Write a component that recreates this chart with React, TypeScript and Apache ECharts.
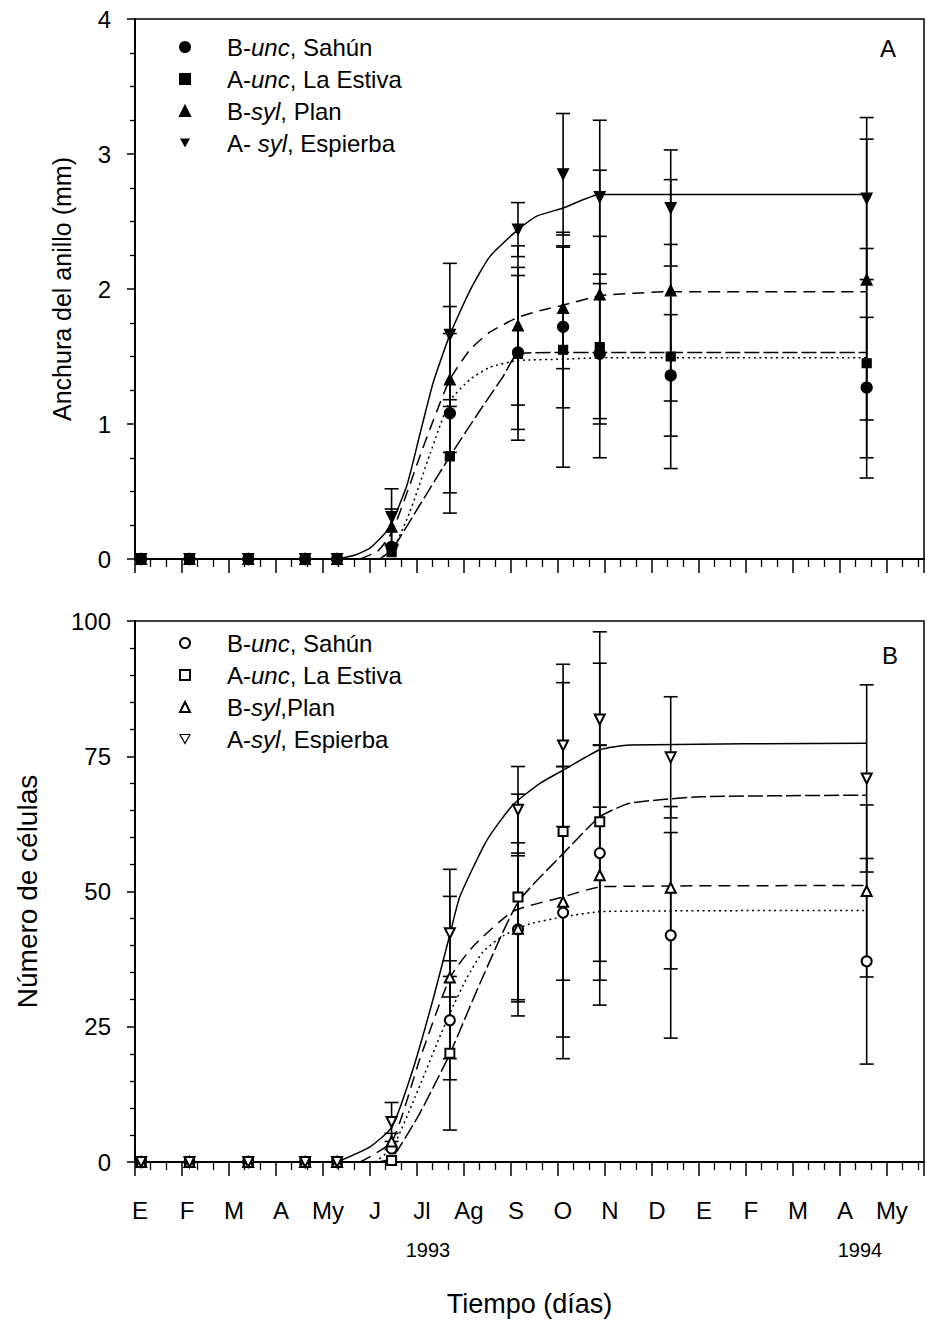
import React, { useEffect, useRef } from 'react';
import * as echarts from 'echarts';

const FONT = "'Liberation Sans', Arial, sans-serif";

// x values are months since 1 January 1993
const monthLabels = ['E', 'F', 'M', 'A', 'My', 'J', 'Jl', 'Ag', 'S', 'O', 'N', 'D', 'E', 'F', 'M', 'A', 'My'];
const sampleMonths = [0.13, 1.16, 2.41, 3.62, 4.3, 5.46, 6.7, 8.15, 9.11, 9.89, 11.4, 15.57];

// Panel A: ring width (mm)
const ringBUnc = [0, 0, 0, 0, 0, 0.09, 1.08, 1.53, 1.72, 1.52, 1.36, 1.27];
const ringBUncErr = [0, 0, 0, 0, 0, 0, 0.59, 0.57, 0.6, 0.52, 0.45, 0.52];
const ringAUnc = [0, 0, 0, 0, 0, 0.05, 0.76, 1.52, 1.55, 1.57, 1.5, 1.45];
const ringAUncErr = [0, 0, 0, 0, 0, 0, 0.42, 0.64, 0.87, 0.82, 0.83, 0.85];
const ringBSyl = [0, 0, 0, 0, 0, 0.24, 1.33, 1.73, 1.86, 1.96, 1.99, 2.07];
const ringBSylErr = [0, 0, 0, 0, 0, 0.13, 0.54, 0.59, 0.45, 0.92, 0.82, 1.04];
const ringASyl = [0, 0, 0, 0, 0, 0.31, 1.66, 2.44, 2.85, 2.68, 2.6, 2.67];
const ringASylErr = [0, 0, 0, 0, 0, 0.21, 0.53, 0.2, 0.45, 0.57, 0.43, 0.6];

// Panel A fitted curves
const ringASylFitX = [4.3, 4.68, 5.0, 5.32, 5.47, 5.79, 6.06, 6.34, 6.7, 7.13, 7.55, 8.15, 8.55, 9.11, 9.89, 11.4, 15.57];
const ringASylFitY = [0, 0.03, 0.08, 0.19, 0.27, 0.55, 0.92, 1.3, 1.66, 1.99, 2.24, 2.44, 2.54, 2.6, 2.7, 2.7, 2.7];
const ringBSylFitX = [4.79, 5.17, 5.47, 5.85, 6.06, 6.34, 6.7, 7.13, 7.55, 8.15, 8.62, 9.11, 9.89, 11.4, 15.57];
const ringBSylFitY = [0, 0.06, 0.2, 0.55, 0.76, 1.02, 1.33, 1.55, 1.68, 1.79, 1.84, 1.88, 1.95, 1.98, 1.98];
const ringBUncFitX = [5.17, 5.47, 5.85, 6.28, 6.7, 7.13, 7.55, 8.15, 9.11, 9.89, 11.4, 15.57];
const ringBUncFitY = [0, 0.06, 0.35, 0.78, 1.17, 1.33, 1.42, 1.47, 1.48, 1.49, 1.49, 1.49];
const ringAUncFitX = [5.21, 5.47, 6.06, 6.7, 7.34, 7.83, 8.15, 9.11, 9.89, 11.4, 15.57];
const ringAUncFitY = [0, 0.07, 0.4, 0.76, 1.1, 1.35, 1.52, 1.53, 1.53, 1.53, 1.53];

// Panel B: number of cells
const cellBUnc = [0, 0, 0, 0, 0, 2.5, 26.2, 43, 46.1, 57.1, 41.9, 37.1];
const cellBUncErr = [0, 0, 0, 0, 0, 0, 11, 16, 27, 20, 19, 19];
const cellAUnc = [0, 0, 0, 0, 0, 0.3, 20.1, 49, 61.1, 62.9, null, null];
const cellAUncErr = [0, 0, 0, 0, 0, 0, 14.2, 19, 27.5, 29.3, null, null];
const cellBSyl = [0, 0, 0, 0, 0, 3.8, 34.1, 43.1, 48.1, 53, 50.7, 50.1];
const cellBSylErr = [0, 0, 0, 0, 0, 1.5, 15, 13.5, 25, 24, 15, 15.9];
const cellASyl = [0, 0, 0, 0, 0, 7.4, 42.3, 65.1, 77, 81.8, 74.8, 70.9];
const cellASylErr = [0, 0, 0, 0, 0, 3.6, 11.8, 8, 15, 16.2, 11.2, 17.3];

// Panel B fitted curves
const cellASylFitX = [4.3, 5.0, 5.47, 5.91, 6.34, 6.7, 6.91, 7.49, 8.04, 8.62, 9.19, 9.89, 10.53, 15.57];
const cellASylFitY = [0, 2.8, 6.5, 17, 30, 42, 49, 59.5, 66, 70, 72.8, 76.2, 77.1, 77.4];
const cellAUncFitX = [5.17, 5.47, 6.06, 6.7, 7.34, 8.15, 9.11, 9.89, 10.53, 12.02, 15.57];
const cellAUncFitY = [0, 0.8, 9, 20, 33, 48, 57, 63.8, 66.3, 67.5, 67.8];
const cellBSylFitX = [4.79, 5.47, 6.06, 6.7, 7.19, 8.04, 9.11, 9.94, 15.57];
const cellBSylFitY = [0, 3.8, 19, 34, 39.8, 46.3, 49, 50.9, 51.1];
const cellBUncFitX = [5.11, 5.49, 5.96, 6.43, 6.7, 7.06, 7.4, 7.83, 8.4, 9.11, 9.94, 15.57];
const cellBUncFitY = [0, 2.8, 12, 22, 27.5, 34, 38.8, 41.8, 44, 45.3, 46.3, 46.5];

const legendTop = ['A:B-unc', 'A:A-unc', 'A:B-syl', 'A:A-syl'];
const legendBottom = ['B:B-unc', 'B:A-unc', 'B:B-syl', 'B:A-syl'];
const legendText: Record<string, string> = {
  'A:B-unc': '{s|}{n|B-}{i|unc}{n|, Sahún}',
  'A:A-unc': '{s|}{n|A-}{i|unc}{n|, La Estiva}',
  'A:B-syl': '{s|}{n|B-}{i|syl}{n|, Plan}',
  'A:A-syl': '{s|}{n|A- }{i|syl}{n|, Espierba}',
  'B:B-unc': '{s|}{n|B-}{i|unc}{n|, Sahún}',
  'B:A-unc': '{s|}{n|A-}{i|unc}{n|, La Estiva}',
  'B:B-syl': '{s|}{n|B-}{i|syl}{n|,Plan}',
  'B:A-syl': '{s|}{n|A-}{i|syl}{n|, Espierba}',
};
const downTriangleIcon = 'path://M0,0L10,0L5,9Z';

const pairs = (xs: number[], ys: (number | null)[]) =>
  xs.map((x, i) => [x, ys[i]]).filter((p) => p[1] !== null && p[1] !== undefined);

const errData = (xs: number[], ys: (number | null)[], es: (number | null)[]) =>
  xs
    .map((x, i) => (ys[i] === null || !es[i] ? null : [x, (ys[i] as number) - (es[i] as number), (ys[i] as number) + (es[i] as number)]))
    .filter((d) => d !== null);

const errSeries = (g: number, xs: number[], ys: (number | null)[], es: (number | null)[]) => ({
  type: 'custom',
  xAxisIndex: g,
  yAxisIndex: g,
  silent: true,
  z: 3,
  clip: false,
  data: errData(xs, ys, es),
  renderItem: (_params: any, api: any) => {
    const top = api.coord([api.value(0), api.value(2)]);
    const bot = api.coord([api.value(0), api.value(1)]);
    const w = 7;
    const st = { stroke: '#000', lineWidth: 1.6 };
    return {
      type: 'group',
      children: [
        { type: 'line', shape: { x1: top[0], y1: top[1], x2: bot[0], y2: bot[1] }, style: st },
        { type: 'line', shape: { x1: top[0] - w, y1: top[1], x2: top[0] + w, y2: top[1] }, style: st },
        { type: 'line', shape: { x1: bot[0] - w, y1: bot[1], x2: bot[0] + w, y2: bot[1] }, style: st },
      ],
    };
  },
});

const fitSeries = (g: number, xs: number[], ys: number[], dash: any) => ({
  type: 'line',
  xAxisIndex: g,
  yAxisIndex: g,
  data: pairs(xs, ys),
  showSymbol: false,
  symbol: 'none',
  smooth: 0.18,
  silent: true,
  z: 2,
  lineStyle: { color: '#000', width: 1.5, type: dash },
});

const markSeries = (g: number, name: string, ys: (number | null)[], symbol: string, size: number, rotate = 0) => ({
  type: 'scatter',
  name,
  xAxisIndex: g,
  yAxisIndex: g,
  data: pairs(sampleMonths, ys),
  symbol,
  symbolSize: size,
  symbolRotate: rotate,
  itemStyle: { color: '#000', borderColor: '#000', borderWidth: 1.2, opacity: 1 },
  z: 5,
  silent: true,
});

const xAxisBase = (g: number) => ({
  type: 'value',
  gridIndex: g,
  min: 0,
  max: 16.79,
  interval: 1,
  axisLine: { show: true, onZero: false, lineStyle: { color: '#000', width: 2 } },
  axisTick: { show: true, length: 14, lineStyle: { color: '#000', width: 1.5 } },
  minorTick: { show: true, splitNumber: 3, length: 8, lineStyle: { color: '#000', width: 1.3 } },
  splitLine: { show: false },
  minorSplitLine: { show: false },
});

const yAxisBase = (g: number, max: number, interval: number, minorSplit: number, name: string, nameGap: number, nameSize: number) => ({
  type: 'value',
  gridIndex: g,
  min: 0,
  max,
  interval,
  axisLine: { show: true, lineStyle: { color: '#000', width: 2 } },
  axisTick: { show: true, length: 8, lineStyle: { color: '#000', width: 1.5 } },
  minorTick: { show: true, splitNumber: minorSplit, length: 5, lineStyle: { color: '#000', width: 1.3 } },
  splitLine: { show: false },
  minorSplitLine: { show: false },
  axisLabel: { color: '#000', fontSize: 24, fontFamily: FONT, margin: 24 },
  name,
  nameLocation: 'middle',
  nameGap,
  nameTextStyle: { color: '#000', fontSize: nameSize, fontFamily: FONT },
});

const legendBase = (top: number, data: any[]) => ({
  orient: 'vertical',
  left: 174,
  top,
  itemWidth: 10,
  itemHeight: 10,
  itemGap: 0,
  selectedMode: false,
  data,
  formatter: (n: string) => legendText[n],
  textStyle: {
    color: '#000',
    fontSize: 24,
    lineHeight: 32,
    fontFamily: FONT,
    rich: {
      s: { width: 32, lineHeight: 32 },
      n: { color: '#000', fontSize: 24, lineHeight: 32, fontFamily: FONT },
      i: { color: '#000', fontSize: 24, lineHeight: 32, fontFamily: FONT, fontStyle: 'italic' },
    },
  },
});

const topLegendData = legendTop.map((name, i) =>
  i === 3 ? { name, icon: downTriangleIcon, itemStyle: { color: '#000', borderColor: '#000', borderWidth: 0 } } : { name }
);
const bottomLegendData = legendBottom.map((name, i) =>
  i === 3 ? { name, icon: downTriangleIcon, itemStyle: { color: '#fff', borderColor: '#000', borderWidth: 1.2 } } : { name }
);

export default function App() {
  const ref = useRef<HTMLDivElement>(null);
  useEffect(() => {
    document.body.style.margin = '0';
    const chart = echarts.init(ref.current as HTMLDivElement, null, { renderer: 'svg' });
    chart.setOption({
      animation: false,
      backgroundColor: '#fff',
      grid: [
        { left: 135, top: 19, width: 789, height: 540, show: true, borderColor: '#000', borderWidth: 1.5, backgroundColor: 'transparent' },
        { left: 135, top: 621, width: 789, height: 541, show: true, borderColor: '#000', borderWidth: 1.5, backgroundColor: 'transparent' },
      ],
      xAxis: [
        { ...xAxisBase(0), axisLabel: { show: false } },
        {
          ...xAxisBase(1),
          axisLabel: {
            show: true,
            color: '#000',
            fontSize: 24,
            fontFamily: FONT,
            margin: 36,
            padding: [0, 0, 0, 10],
            formatter: (v: number) => monthLabels[Math.round(v)] ?? '',
          },
          name: 'Tiempo (días)',
          nameLocation: 'middle',
          nameGap: 128,
          nameTextStyle: { color: '#000', fontSize: 27, fontFamily: FONT },
        },
      ],
      yAxis: [
        yAxisBase(0, 4, 1, 4, 'Anchura del anillo (mm)', 61, 25),
        yAxisBase(1, 100, 25, 5, 'Número de células', 94, 28),
      ],
      legend: [legendBase(26, topLegendData), legendBase(622, bottomLegendData)],
      graphic: [
        { type: 'text', x: 888, y: 48, style: { text: 'A', font: `24px ${FONT}`, fill: '#000', align: 'center', verticalAlign: 'middle' } },
        { type: 'text', x: 890, y: 655, style: { text: 'B', font: `24px ${FONT}`, fill: '#000', align: 'center', verticalAlign: 'middle' } },
        { type: 'text', x: 428, y: 1250, style: { text: '1993', font: `20px ${FONT}`, fill: '#000', align: 'center', verticalAlign: 'middle' } },
        { type: 'text', x: 860, y: 1250, style: { text: '1994', font: `20px ${FONT}`, fill: '#000', align: 'center', verticalAlign: 'middle' } },
      ],
      series: [
        fitSeries(0, ringASylFitX, ringASylFitY, 'solid'),
        fitSeries(0, ringBSylFitX, ringBSylFitY, [12, 7]),
        fitSeries(0, ringAUncFitX, ringAUncFitY, [15, 4]),
        fitSeries(0, ringBUncFitX, ringBUncFitY, [2, 3.5]),
        fitSeries(1, cellASylFitX, cellASylFitY, 'solid'),
        fitSeries(1, cellBSylFitX, cellBSylFitY, [12, 7]),
        fitSeries(1, cellAUncFitX, cellAUncFitY, [15, 4]),
        fitSeries(1, cellBUncFitX, cellBUncFitY, [2, 3.5]),
        errSeries(0, sampleMonths, ringBUnc, ringBUncErr),
        errSeries(0, sampleMonths, ringAUnc, ringAUncErr),
        errSeries(0, sampleMonths, ringBSyl, ringBSylErr),
        errSeries(0, sampleMonths, ringASyl, ringASylErr),
        errSeries(1, sampleMonths, cellBUnc, cellBUncErr),
        errSeries(1, sampleMonths, cellAUnc, cellAUncErr),
        errSeries(1, sampleMonths, cellBSyl, cellBSylErr),
        errSeries(1, sampleMonths, cellASyl, cellASylErr),
        markSeries(0, 'A:B-unc', ringBUnc, 'circle', 11),
        markSeries(0, 'A:A-unc', ringAUnc, 'rect', 9),
        markSeries(0, 'A:B-syl', ringBSyl, 'triangle', 11),
        markSeries(0, 'A:A-syl', ringASyl, 'triangle', 11, 180),
        markSeries(1, 'B:B-unc', cellBUnc, 'emptyCircle', 10),
        markSeries(1, 'B:A-unc', cellAUnc, 'emptyRect', 9),
        markSeries(1, 'B:B-syl', cellBSyl, 'emptyTriangle', 10),
        markSeries(1, 'B:A-syl', cellASyl, 'emptyTriangle', 10, 180),
      ],
    });
    return () => chart.dispose();
  }, []);
  return <div ref={ref} style={{ width: 927, height: 1329 }} />;
}
